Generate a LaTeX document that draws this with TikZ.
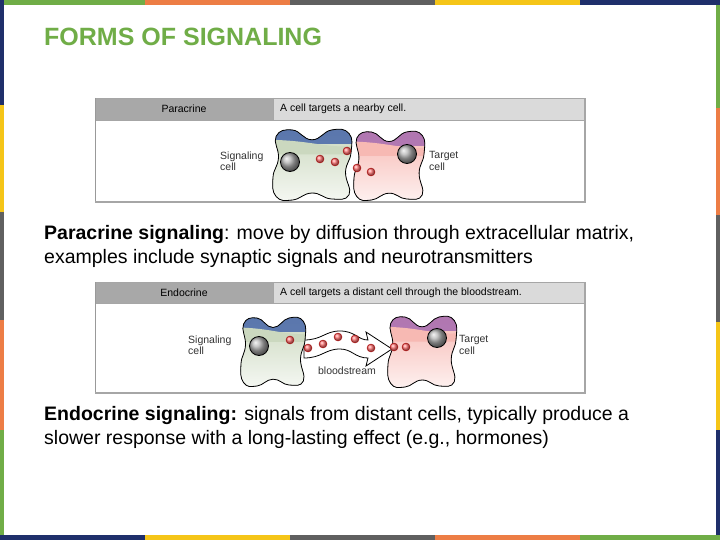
\documentclass[tikz,border=0pt]{standalone}
\usepackage{fontspec}
\setmainfont{Liberation Sans}
\usetikzlibrary{positioning}
\definecolor{sgreen}{HTML}{70AD47}
\definecolor{sorange}{HTML}{ED7D45}
\definecolor{sgray}{HTML}{606060}
\definecolor{syellow}{HTML}{F5C518}
\definecolor{snavy}{HTML}{1F2F6B}
\definecolor{hdrdark}{HTML}{A8A8A8}
\definecolor{hdrlight}{HTML}{DADADA}
\definecolor{sigbody}{HTML}{A9BF94}
\definecolor{tarbody}{HTML}{F28A80}
\definecolor{sigcap}{HTML}{3F5FA8}
\definecolor{tarcap}{HTML}{A066B0}
\tikzset{
  blob/.style={insert path={plot[smooth cycle, tension=0.8] coordinates{(-0.92,-0.82) (-0.5,-1) (0,-0.72) (0.5,-1) (0.95,-0.9) (1,-0.35) (0.86,0.2) (0.95,0.85) (0.5,0.97) (0,0.8) (-0.5,1) (-0.92,0.9) (-1,0.35) (-0.86,-0.2)}}},
  nucleus/.style={circle, draw=black, thick, ball color=gray!60, minimum size=19pt, inner sep=0pt},
  dot/.style={circle, draw=red!70!black, thin, ball color=red!55, minimum size=8pt, inner sep=0pt},
  lbl/.style={font=\fontsize{10.5}{11.5}\selectfont, align=left, text=black!80, inner sep=0pt},
  hdr/.style={font=\fontsize{10.5}{11}\selectfont, inner sep=0pt},
  body/.style={font=\fontsize{19.5}{24}\selectfont, align=left, anchor=north west, inner sep=0pt}
}
% one cell: centre, half width, half height, body colour, cap colour
\newcommand\cellblob[5]{%
  \begin{scope}[shift={(#1)}, xscale=#2, yscale=#3]
    \fill[top color=#4!60, bottom color=#4!12] [blob];
    \begin{scope}
      \clip[blob];
      \fill[#5, opacity=.8] (-1.2,-1.2) rectangle (1.2,-0.6);
      \fill[#4!60] (-1.2,-0.72) .. controls (0,-0.72) and (0.4,-0.45) .. (1.2,-0.55) -- (1.2,-0.3) -- (-1.2,-0.3) -- cycle;
    \end{scope}
    \draw[black, thick] [blob];
  \end{scope}}
\begin{document}
\begin{tikzpicture}[x=1pt, y=-1pt]
\useasboundingbox (0,0) rectangle (720,540);
\fill[white] (0,0) rectangle (720,540);
%% slide border
\foreach \c [count=\i from 0] in {sgreen,sorange,sgray,syellow,snavy}
  \fill[\c] (\i*145,0) rectangle (\i*145+145,5);
\foreach \c [count=\i from 0] in {snavy,syellow,sgray,sorange,sgreen}
  \fill[\c] (\i*145,535) rectangle (\i*145+145,540);
\foreach \c/\a/\b in {snavy/0/105,syellow/105/212,sgray/212/320,sorange/320/430,sgreen/430/535}
  \fill[\c] (0,\a) rectangle (4,\b);
\foreach \c/\a/\b in {sgreen/5/108,sorange/108/215,sgray/215/322,syellow/322/430,snavy/430/535}
  \fill[\c] (716,\a) rectangle (720,\b);
\node[anchor=west, inner sep=0pt, text=sgreen, font=\fontsize{25}{28}\selectfont\bfseries] (title) at (44,37) {FORMS OF SIGNALING};

%% paracrine panel
\fill[hdrdark] (95,98) rectangle (273,120);
\fill[hdrlight] (273,98) rectangle (585,120);
\draw[gray!70, thick] (95,98) -- (585,98);
\draw[gray!70] (95,120) -- (585,120) (273,98) -- (273,120);
\draw[gray!80, thin] (95,98) -- (95,202);
\draw[gray!70, line width=1.8pt] (95,202) -- (585,202) -- (585,98);
\node[hdr] (ptype) at (184,109) {Paracrine};
\node[hdr, anchor=west] (pdesc) at (280,109) {A cell targets a nearby cell.};
\cellblob{312,165}{39}{35}{sigbody}{sigcap}
\cellblob{389,166}{35}{34}{tarbody}{tarcap}
\node[nucleus] (pn1) at (290,162) {};
\node[nucleus] (pn2) at (407,154) {};
\foreach \x/\y [count=\k] in {320/159,335/162,347/151,357/168,371/172}
  \node[dot] (pd\k) at (\x,\y) {};
\node[lbl, anchor=west] (psig) at (220,161) {Signaling\\cell};
\node[lbl, anchor=west] (ptar) at (429,161) {Target\\cell};

\node[body] (ptext) at (44,225) {\textbf{Paracrine signaling}: move by diffusion through extracellular matrix,\\examples include synaptic signals and neurotransmitters};

%% endocrine panel
\fill[hdrdark] (95,282) rectangle (273,303);
\fill[hdrlight] (273,282) rectangle (585,303);
\draw[gray!70, thick] (95,282) -- (585,282);
\draw[gray!70] (95,303) -- (585,303) (273,282) -- (273,303);
\draw[gray!80, thin] (95,282) -- (95,393);
\draw[gray!70, line width=1.8pt] (95,393) -- (585,393) -- (585,282);
\node[hdr] (etype) at (184,293) {Endocrine};
\node[hdr, anchor=west] (edesc) at (280,293) {A cell targets a distant cell through the bloodstream.};
\draw[black, thick, fill=white] (304,340) .. controls (322,340) and (325,331) .. (340,331)
  .. controls (355,331) and (358,340) .. (368,340) -- (366,332) -- (392,349) -- (366,366) -- (368,358)
  .. controls (355,358) and (352,349) .. (340,349) .. controls (325,349) and (322,358) .. (304,358) -- cycle;
\cellblob{273,352}{32}{34}{sigbody}{sigcap}
\cellblob{422,352}{34}{35}{tarbody}{tarcap}
\node[nucleus] (en1) at (259,346) {};
\node[nucleus] (en2) at (437,338) {};
\foreach \x/\y [count=\k] in {290/340,308/348,323/344,338/337,355/339,371/348,394/347,406/347}
  \node[dot] (ed\k) at (\x,\y) {};
\node[lbl, anchor=west] (esig) at (188,345) {Signaling\\cell};
\node[lbl, anchor=west] (etar) at (459,345) {Target\\cell};
\node[lbl] (blood) at (347,371) {bloodstream};

\node[body] (etext) at (44,406) {\textbf{Endocrine signaling:} signals from distant cells, typically produce a\\slower response with a long-lasting effect (e.g., hormones)};
\end{tikzpicture}
\end{document}
